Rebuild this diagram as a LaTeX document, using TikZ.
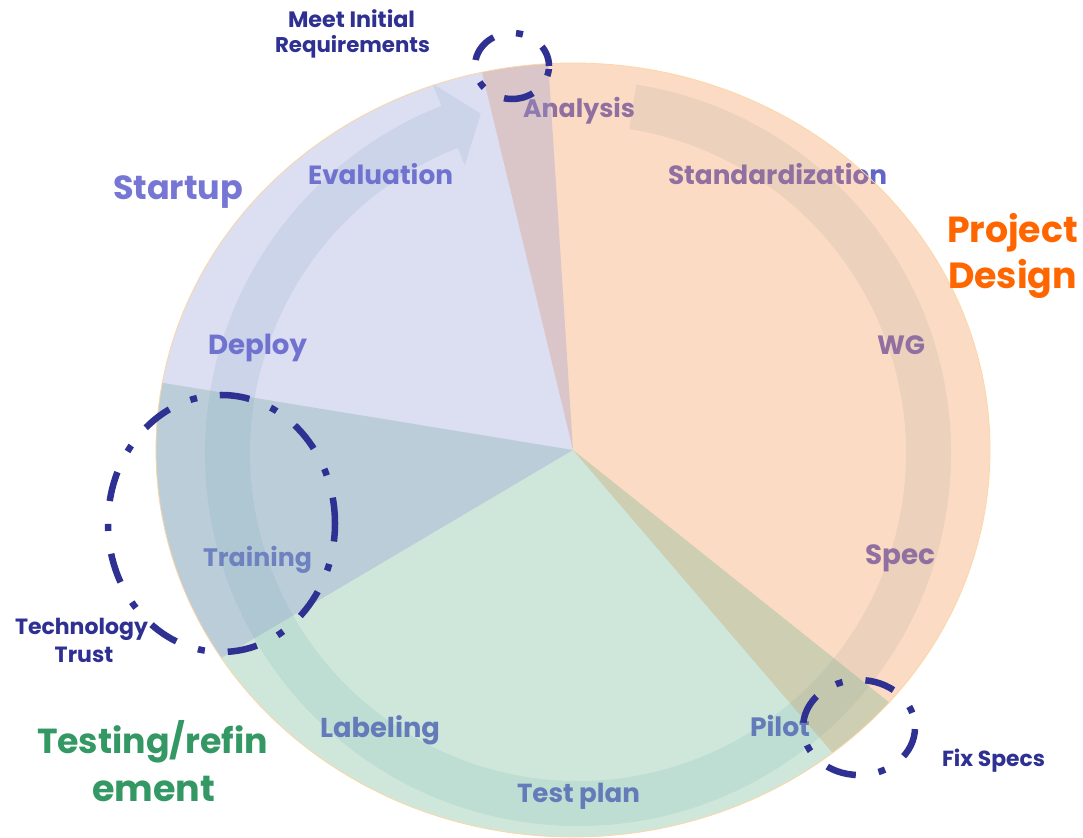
\documentclass[tikz,border=0pt]{standalone}
\usepackage{fontspec}
\setmainfont{Poppins}
\usepackage{graphicx}
\definecolor{orangeF}{RGB}{248,138,62}
\definecolor{purpleF}{RGB}{142,148,212}
\definecolor{greenF}{RGB}{98,178,138}
\definecolor{bandcol}{RGB}{231,240,244}
\definecolor{lblcol}{RGB}{100,100,205}
\definecolor{navy}{RGB}{46,49,146}
\definecolor{startupcol}{RGB}{118,118,212}
\definecolor{projcol}{RGB}{255,102,0}
\definecolor{testcol}{RGB}{52,152,100}
\definecolor{edgecol}{RGB}{252,214,165}
\newcommand{\fitw}[2]{\resizebox{#1pt}{!}{\bfseries #2}}
\newlength\tmpwd
\newcommand{\fitas}[3]{\settowidth{\tmpwd}{\bfseries #2}\scalebox{\fpeval{#1/\tmpwd}}{\bfseries #3}}
\begin{document}
\begin{tikzpicture}[x=1pt,y=1pt,
  lbl/.style={anchor=base west, inner sep=0pt, outer sep=0pt},
  inlbl/.style={lbl, text=lblcol},
  sector/.style={fill opacity=0.3},
  ring/.style={draw=navy, line width=6.5pt, dash pattern=on 30pt off 23pt on 7pt off 23pt}]
\useasboundingbox (0,0) rectangle (1083,837);
\fill[white] (0,0) rectangle (1083,837);

% circular arrow band
\begin{scope}[shift={(578,384)}]
\fill[bandcol] (81:373) arc[start angle=81, end angle=-248.5, radius=373]
  -- (-248.5:397) -- (-254:353) -- (-248.5:309) -- (-248.5:328)
  arc[start angle=-248.5, end angle=81, radius=328] -- cycle;
\end{scope}

% inner labels (under the translucent sectors)
\node[inlbl] (analysis) at (523,719) {\fitw{112}{Analysis}};
\node[inlbl] (standard) at (668,652) {\fitw{219}{Standardization}};
\node[inlbl] (evaluation) at (308,652) {\fitw{145}{Evaluation}};
\node[inlbl] (wg) at (877,482) {\fitw{48}{WG}};
\node[inlbl] (deploy) at (208,482) {\fitw{99}{Deploy}};
\node[inlbl] (training) at (203,270) {\fitw{109}{Training}};
\node[inlbl] (spec) at (865,272) {\fitw{70}{Spec}};
\node[inlbl] (labeling) at (320,99) {\fitw{120}{Labeling}};
\node[inlbl] (pilot) at (750,100) {\fitw{60}{Pilot}};
\node[inlbl] (testplan) at (517,34) {\fitw{123}{Test plan}};

% pie sectors
\begin{scope}[shift={(573,387)}]
\fill[orangeF, sector] (0,0) -- (-51.5:417 and 387)
  arc[start angle=-51.5, end angle=102.6, x radius=417, y radius=387] -- cycle;
\fill[greenF, sector] (0,0) -- (170:417 and 387)
  arc[start angle=170, end angle=319.3, x radius=417, y radius=387] -- cycle;
\fill[purpleF, sector] (0,0) -- (93.4:417 and 387)
  arc[start angle=93.4, end angle=212.5, x radius=417, y radius=387] -- cycle;
\draw[edgecol, line width=0.8pt] (0,0) ellipse[x radius=417, y radius=387];
\end{scope}

% dash-dot rings
\draw[ring, dash phase=9pt] (512,771) ellipse[x radius=37, y radius=33];
\draw[ring, dash phase=4pt] (221.5,313.5) ellipse[x radius=113.5, y radius=128.5];
\draw[ring, dash phase=38pt] (859,109.5) ellipse[x radius=56, y radius=47.5];

% outer labels
\node[lbl, text=navy] (meet1) at (288,809) {\fitw{127}{Meet Initial}};
\node[lbl, text=navy] (meet2) at (275,784) {\fitw{155}{Requirements}};
\node[lbl, text=startupcol] (startup) at (113,637) {\fitw{130}{Startup}};
\node[lbl, text=projcol] (proj1) at (947,594) {\fitw{131}{Project}};
\node[lbl, text=projcol] (proj2) at (948,548) {\fitw{129}{Design}};
\node[lbl, text=navy] (tech1) at (15,202) {\fitw{133}{Technology}};
\node[lbl, text=navy, anchor=base] (tech2) at (84,175) {\fitas{133}{Technology}{Trust}};
\node[lbl, text=navy] (fixspecs) at (942,70) {\fitw{103}{Fix Specs}};
\node[lbl, text=testcol] (test1) at (37,83) {\fitw{231}{Testing/refin}};
\node[lbl, text=testcol] (test2) at (92,35) {\fitw{123}{ement}};
\end{tikzpicture}
\end{document}
